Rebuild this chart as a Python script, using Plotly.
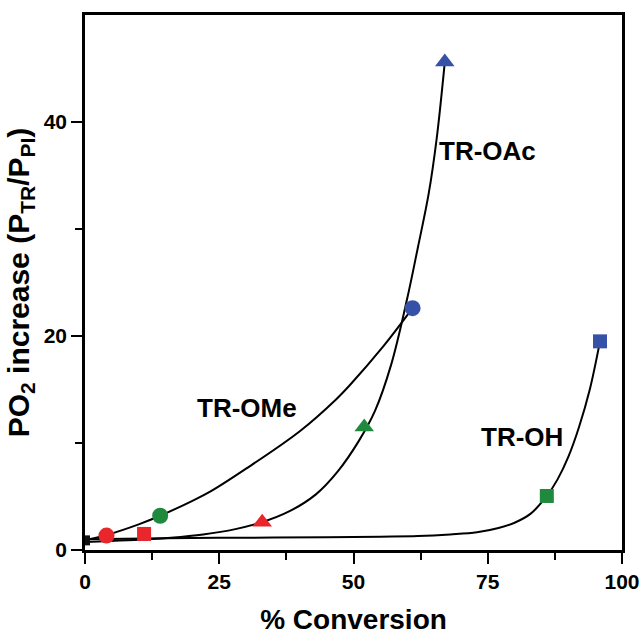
import plotly.graph_objects as go

# Measured points
point_x = [0, 4, 11, 33, 14, 52, 86, 61, 67, 95.9]
point_y = [0.9, 1.35, 1.5, 2.6, 3.2, 11.5, 5.05, 22.6, 45.6, 19.5]
point_symbol = ["square", "circle", "square", "triangle-up", "circle", "triangle-up",
                "square", "circle", "triangle-up", "square"]
point_color = ["#111111", "#e8262b", "#e8262b", "#e8262b", "#1f8a3d", "#1f8a3d",
               "#1f8a3d", "#3651a8", "#3651a8", "#3651a8"]
point_size = [10, 16, 14, 17, 16, 17, 14, 16, 17, 14]

# Fitted curves
ome_x = [0, 4, 10, 14, 20, 23.3, 30, 40, 46.6, 49.3, 55.5, 61]
ome_y = [0.9, 1.4, 2.4, 3.2, 4.6, 5.45, 7.6, 11.1, 14.0, 15.4, 19.0, 22.6]

oac_x = [0, 8, 16, 22, 28, 33, 38, 43, 47, 51, 54, 57, 60, 62, 64, 65.5, 67]
oac_y = [0.75, 0.9, 1.15, 1.45, 1.95, 2.6, 3.6, 5.2, 7.3, 10.2, 13.0, 17.3, 23.5, 28.3, 33.3, 38.5, 45.6]

oh_x = [0, 15, 30, 45, 55, 62, 68, 73, 77, 80, 83, 86, 88, 90, 92, 94, 95.9]
oh_y = [1.0, 1.1, 1.15, 1.2, 1.25, 1.3, 1.45, 1.65, 2.05, 2.55, 3.4, 5.05, 6.6, 8.7, 11.5, 15.0, 19.5]

labels = ["TR-OAc", "TR-OMe", "TR-OH"]
label_x = [74.9, 30.2, 81.4]
label_y = [37.3, 13.3, 10.6]

FONT = "Liberation Sans, Arial, sans-serif"

fig = go.Figure()
for cx, cy in [(ome_x, ome_y), (oac_x, oac_y), (oh_x, oh_y)]:
    fig.add_trace(go.Scatter(x=cx, y=cy, mode="lines",
                             line=dict(color="black", width=2, shape="spline", smoothing=1.0),
                             showlegend=False, hoverinfo="skip"))

fig.add_trace(go.Scatter(
    x=point_x, y=point_y, mode="markers", showlegend=False,
    marker=dict(symbol=point_symbol, color=point_color, size=point_size,
                opacity=1, line=dict(width=0)),
))

for t, lx, ly in zip(labels, label_x, label_y):
    fig.add_annotation(x=lx, y=ly, text=t, showarrow=False,
                       font=dict(family=FONT, size=26, color="black", weight="bold"))

axis_common = dict(
    showline=True, linecolor="black", linewidth=2.5, mirror=True,
    ticks="outside", ticklen=11, tickwidth=2, tickcolor="black",
    showgrid=False, zeroline=False, automargin=False,
    tickfont=dict(family=FONT, size=21, color="black", weight="bold"),
)

fig.update_xaxes(
    range=[0, 100], tickvals=[0, 25, 50, 75, 100],
    minor=dict(tickvals=[12.5, 37.5, 62.5, 87.5], ticks="outside", ticklen=7,
               tickwidth=2, tickcolor="black"),
    title=dict(text="% Conversion", standoff=20,
               font=dict(family=FONT, size=28, color="black", weight="bold")),
    **axis_common,
)
fig.update_yaxes(
    range=[0, 50], tickvals=[0, 20, 40],
    minor=dict(tickvals=[10, 30], ticks="outside", ticklen=7,
               tickwidth=2, tickcolor="black"),
    title=dict(text="PO<sub>2</sub> increase (P<sub>TR</sub>/P<sub>PI</sub>)", standoff=6,
               font=dict(family=FONT, size=30, color="black", weight="bold")),
    **axis_common,
)

fig.update_layout(
    width=641, height=635,
    margin=dict(l=85, r=19, t=15, b=85),
    plot_bgcolor="white", paper_bgcolor="white",
)

fig.write_html("out.html")
